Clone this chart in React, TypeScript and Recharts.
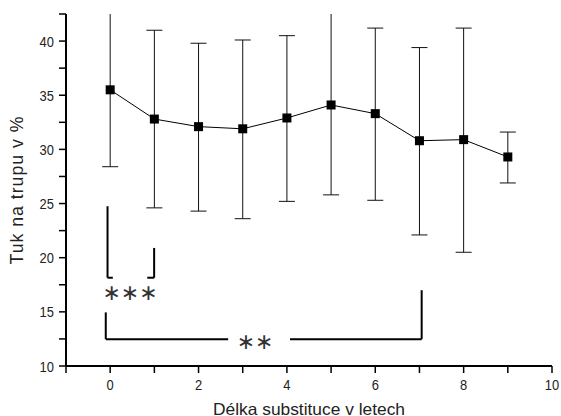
import {
  LineChart,
  Line,
  XAxis,
  YAxis,
  ErrorBar,
  ReferenceLine,
  ReferenceDot,
  ReferenceArea,
} from "recharts";

// years of substitution (x) and mean body fat %
const years = [0, 1, 2, 3, 4, 5, 6, 7, 8, 9];
const fatMean = [35.5, 32.8, 32.1, 31.9, 32.9, 34.1, 33.3, 30.8, 30.9, 29.3];
// [down, up] error (SD); first and sixth run past the top of the plot
const fatErr = [
  [7.1, 7.6],
  [8.2, 8.2],
  [7.8, 7.7],
  [8.3, 8.2],
  [7.7, 7.6],
  [8.3, 8.8],
  [8.0, 7.9],
  [8.7, 8.6],
  [10.4, 10.3],
  [2.4, 2.3],
];

const xTicks = [-1, 0, 1, 2, 3, 4, 5, 6, 7, 8, 9, 10];
const yTicks = [10, 12.5, 15, 17.5, 20, 22.5, 25, 27.5, 30, 32.5, 35, 37.5, 40, 42.5];

const data = years.map((x, i) => ({ x, fat: fatMean[i], err: fatErr[i] }));

// significance brackets (data coordinates)
const bracket1 = [
  [{ x: -0.06, y: 24.75 }, { x: -0.06, y: 18.15 }],
  [{ x: -0.06, y: 18.15 }, { x: 0.06, y: 18.15 }],
  [{ x: 0.84, y: 18.15 }, { x: 0.995, y: 18.15 }],
  [{ x: 0.995, y: 18.15 }, { x: 0.995, y: 20.9 }],
];
const bracket2 = [
  [{ x: -0.1, y: 14.95 }, { x: -0.1, y: 12.48 }],
  [{ x: -0.1, y: 12.48 }, { x: 2.67, y: 12.48 }],
  [{ x: 4.07, y: 12.48 }, { x: 7.05, y: 12.48 }],
  [{ x: 7.05, y: 12.48 }, { x: 7.05, y: 17.0 }],
];

const FONT = "'Liberation Sans', Arial, sans-serif";
const TICK_FS = 15.4;
// the source figure is squeezed horizontally
const SQUEEZE = 0.84;

function squeezedWidth(s: string, fs: number) {
  return s.length * 0.556 * fs * SQUEEZE;
}

function XTick(props: any) {
  const { x, y, payload } = props;
  const v = payload.value;
  if (v < 0 || v % 2 !== 0) return null;
  const s = String(v);
  return (
    <text
      x={x}
      y={y}
      dy="0.71em"
      textAnchor="middle"
      fontSize={TICK_FS}
      fontFamily={FONT}
      fill="#222"
      textLength={squeezedWidth(s, TICK_FS)}
      lengthAdjust="spacingAndGlyphs"
    >
      {s}
    </text>
  );
}

function YTick(props: any) {
  const { x, y, payload } = props;
  const v = payload.value;
  if (v % 5 !== 0) return null;
  const s = String(v);
  return (
    <text
      x={x}
      y={y}
      dy="0.36em"
      textAnchor="end"
      fontSize={TICK_FS}
      fontFamily={FONT}
      fill="#222"
      textLength={squeezedWidth(s, TICK_FS)}
      lengthAdjust="spacingAndGlyphs"
    >
      {s}
    </text>
  );
}

function XLabel(props: any) {
  const vb = props.viewBox;
  return (
    <text
      x={vb.x + vb.width / 2}
      y={414.5}
      textAnchor="middle"
      fontSize={16.5}
      fontFamily={FONT}
      fill="#222"
      textLength={192}
      lengthAdjust="spacingAndGlyphs"
    >
      Délka substituce v letech
    </text>
  );
}

function SquareDot(props: any) {
  const { cx, cy } = props;
  if (cx == null || cy == null) return null;
  return <rect x={cx - 4.5} y={cy - 4.5} width={9} height={9} fill="#000" />;
}

function starsShape(txt: string) {
  return (p: any) => (
    <text
      x={p.cx}
      y={p.cy}
      textAnchor="middle"
      dominantBaseline="central"
      fontFamily="'DejaVu Sans', sans-serif"
      fontSize={22}
      fill="#333"
    >
      {txt}
    </text>
  );
}

export default function App() {
  return (
    <div style={{ position: "absolute", left: 0, top: 0, background: "#fff" }}>
      <LineChart
        width={561}
        height={416}
        data={data}
        margin={{ top: 14, right: 9, left: 0, bottom: 0 }}
      >
        <XAxis
          dataKey="x"
          type="number"
          domain={[-1, 10]}
          ticks={xTicks}
          allowDataOverflow
          tick={<XTick />}
          tickSize={7}
          tickMargin={6}
          height={50}
          stroke="#000"
          axisLine={{ stroke: "#000", strokeWidth: 2 }}
          tickLine={{ stroke: "#000", strokeWidth: 1.5 }}
          label={<XLabel />}
        />
        <YAxis
          type="number"
          domain={[10, 42.5]}
          ticks={yTicks}
          allowDataOverflow
          tick={<YTick />}
          tickSize={7}
          tickMargin={5}
          width={66}
          stroke="#000"
          axisLine={{ stroke: "#000", strokeWidth: 2 }}
          tickLine={{ stroke: "#000", strokeWidth: 1.5 }}
          label={{
            value: "Tuk na trupu v %",
            angle: -90,
            position: "insideLeft",
            offset: 17,
            style: { textAnchor: "middle", letterSpacing: 1 },
            fontSize: 17.7,
            fill: "#222",
            fontFamily: FONT,
          }}
        />
        <Line
          dataKey="fat"
          stroke="#000"
          strokeWidth={1}
          dot={<SquareDot />}
          activeDot={false}
          isAnimationActive={false}
        >
          <ErrorBar
            dataKey="err"
            direction="y"
            width={8}
            stroke="#111"
            strokeWidth={1}
            isAnimationActive={false}
          />
        </Line>
        {/* hides the error bar ends above the top of the plot */}
        <ReferenceArea
          x1={-0.97}
          x2={10.3}
          y1={42.5}
          y2={46}
          fill="#fff"
          fillOpacity={1}
          stroke="none"
          ifOverflow="visible"
          zIndex={2000}
        />
        {bracket1.map((seg, i) => (
          <ReferenceLine
            key={"b1" + i}
            segment={seg}
            stroke="#000"
            strokeWidth={2}
            ifOverflow="visible"
          />
        ))}
        {bracket2.map((seg, i) => (
          <ReferenceLine
            key={"b2" + i}
            segment={seg}
            stroke="#000"
            strokeWidth={2}
            ifOverflow="visible"
          />
        ))}
        <ReferenceDot x={0.45} y={16.75} r={0} ifOverflow="visible" shape={starsShape("∗∗∗")} />
        <ReferenceDot x={3.28} y={12.3} r={0} ifOverflow="visible" shape={starsShape("∗∗")} />
      </LineChart>
    </div>
  );
}
